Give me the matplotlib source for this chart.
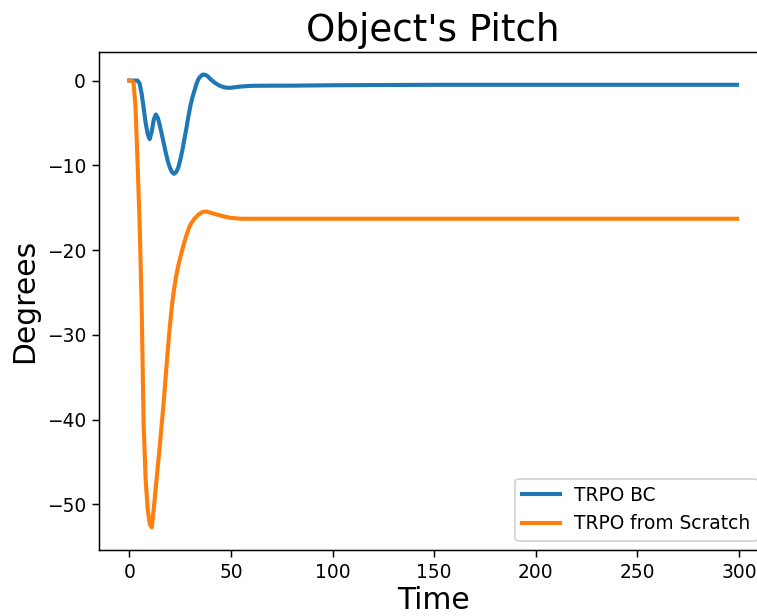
import numpy as np
import matplotlib
matplotlib.use('Agg')
import matplotlib.pyplot as plt

# time steps and pitch readings (degrees)
t_bc = [0, 2, 4, 5, 6, 7, 8, 9, 10, 11, 12, 13, 14, 15, 16, 17, 18, 19, 20, 21,
        22, 23, 24, 25, 26, 27, 28, 29, 30, 31, 32, 33, 34, 35, 36, 37, 38, 39, 40,
        42, 44, 46, 48, 50, 53, 56, 60, 70, 80, 100, 150, 200, 250, 299]
pitch_bc = [0, 0, 0, -0.3, -1.5, -3.2, -5.0, -6.3, -6.9, -6.0, -4.6, -4.0, -4.4, -5.3,
            -6.4, -7.5, -8.6, -9.6, -10.3, -10.8, -11.0, -10.8, -10.3, -9.4, -8.3,
            -7.0, -5.7, -4.3, -3.0, -2.0, -1.2, -0.4, 0.2, 0.5, 0.7, 0.7, 0.6, 0.4,
            0.15, -0.25, -0.55, -0.75, -0.85, -0.85, -0.75, -0.68, -0.62, -0.6, -0.6,
            -0.55, -0.5, -0.5, -0.5, -0.5]

t_scratch = [0, 1, 2, 3, 4, 5, 6, 7, 8, 9, 10, 11, 12, 13, 14, 15, 16, 17, 18, 19, 20,
             21, 22, 23, 24, 25, 26, 27, 28, 29, 30, 32, 34, 36, 38, 40, 43, 46, 50,
             55, 60, 80, 100, 150, 200, 250, 299]
pitch_scratch = [0, 0, -0.2, -3.0, -9.5, -16.5, -26.0, -40.5, -47.0, -50.5, -52.3,
                 -52.7, -50.5, -48.0, -45.5, -43.0, -40.3, -37.6, -34.5, -31.5, -28.8,
                 -26.4, -24.6, -23.1, -21.9, -20.9, -20.0, -19.1, -18.3, -17.6, -17.0,
                 -16.3, -15.8, -15.5, -15.45, -15.6, -15.8, -16.0, -16.2, -16.3, -16.3,
                 -16.3, -16.3, -16.3, -16.3, -16.3, -16.3]

dpi = 134
fig = plt.figure(figsize=(757 / dpi, 616 / dpi), dpi=dpi)
# axes run a little past the right edge, as in the cropped original
ax = fig.add_axes([99 / 757, 66 / 616, (767.4 - 99) / 757, (550 - 52) / 616])

ax.plot(t_bc, pitch_bc, lw=2.2, label='TRPO BC')
ax.plot(t_scratch, pitch_scratch, lw=2.2, label='TRPO from Scratch')

ax.set_title("Object's Pitch", fontsize=20)
ax.set_xlabel('Time', fontsize=16, labelpad=2)
ax.set_ylabel('Degrees', fontsize=16)
ax.legend(loc='lower right')

fig.savefig('out.png', dpi=dpi)
